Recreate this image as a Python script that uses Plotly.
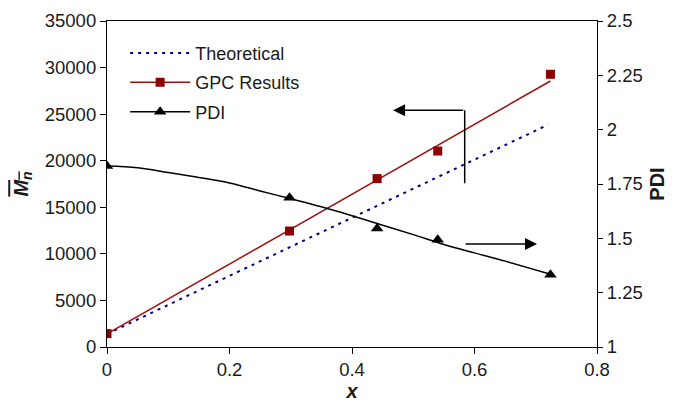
import plotly.graph_objects as go

# ---- data ----
sample_x = [0.0, 0.298, 0.441, 0.540, 0.724]
gpc_mn = [1440, 12450, 18080, 21040, 29280]
pdi_vals = [1.833, 1.687, 1.545, 1.494, 1.333]

theo_x = [0.0, 0.72]
theo_mn = [1400, 23860]

gpc_fit_x = [0.0, 0.724]
gpc_fit_mn = [1400, 28560]

pdi_fit_x = [0.0, 0.05, 0.10, 0.15, 0.20, 0.25, 0.30, 0.35, 0.40, 0.45, 0.50, 0.55, 0.60, 0.65, 0.72]
pdi_fit = [1.833, 1.825, 1.803, 1.780, 1.755, 1.718, 1.682, 1.645, 1.604, 1.560, 1.517, 1.472, 1.433, 1.395, 1.338]

x_ticks = [0, 0.2, 0.4, 0.6, 0.8]
y_ticks = [0, 5000, 10000, 15000, 20000, 25000, 30000, 35000]
y2_ticks = [1, 1.25, 1.5, 1.75, 2, 2.25, 2.5]

# arrow annotations (axis units)
left_arrow = dict(x_tail=0.584, x_tip=0.467, y=25413, y_low=17575)
right_arrow = dict(x_tail=0.583, x_tip=0.702, y=11045)

DARKRED = "#8B0000"
NAVY = "#000080"
FONT = "Liberation Sans, Arial, sans-serif"
TXT = "#1a1a1a"

fig = go.Figure()

# Theoretical
fig.add_trace(go.Scatter(x=theo_x, y=theo_mn, mode="lines", name="Theoretical", legendgroup="a",
                         line=dict(color=NAVY, width=2, dash="3px,5px")))
# GPC fit line + markers
fig.add_trace(go.Scatter(x=gpc_fit_x, y=gpc_fit_mn, mode="lines", showlegend=False,
                         line=dict(color="#a01010", width=1.5)))
fig.add_trace(go.Scatter(x=sample_x, y=gpc_mn, mode="markers", showlegend=False,
                         marker=dict(symbol="square", size=9, color=DARKRED)))
fig.add_trace(go.Scatter(x=[None], y=[None], mode="lines+markers", name="GPC Results", legendgroup="b",
                         line=dict(color="#a01010", width=1.5),
                         marker=dict(symbol="square", size=9, color=DARKRED)))
# PDI
fig.add_trace(go.Scatter(x=pdi_fit_x, y=pdi_fit, mode="lines", showlegend=False, yaxis="y2",
                         line=dict(color="black", width=1.5, shape="spline")))
fig.add_trace(go.Scatter(x=sample_x, y=pdi_vals, mode="markers", showlegend=False, yaxis="y2",
                         marker=dict(symbol="triangle-up", size=11, color="black")))
fig.add_trace(go.Scatter(x=[None], y=[None], mode="lines+markers", name="PDI", yaxis="y2", legendgroup="c",
                         line=dict(color="black", width=1.5),
                         marker=dict(symbol="triangle-up", size=11, color="black")))

# arrows
fig.add_shape(type="line", xref="x", yref="y",
              x0=left_arrow["x_tail"], x1=left_arrow["x_tail"],
              y0=left_arrow["y_low"], y1=left_arrow["y"],
              line=dict(color="black", width=1.5))
fig.add_annotation(x=left_arrow["x_tip"], y=left_arrow["y"], ax=left_arrow["x_tail"], ay=left_arrow["y"],
                   xref="x", yref="y", axref="x", ayref="y", text="", showarrow=True,
                   arrowhead=2, arrowsize=1.6, arrowwidth=1.5, arrowcolor="black")
fig.add_annotation(x=right_arrow["x_tip"], y=right_arrow["y"], ax=right_arrow["x_tail"], ay=right_arrow["y"],
                   xref="x", yref="y", axref="x", ayref="y", text="", showarrow=True,
                   arrowhead=2, arrowsize=1.6, arrowwidth=1.5, arrowcolor="black")

fig.update_layout(
    width=678, height=402,
    margin=dict(l=107, r=81, t=21, b=55),
    paper_bgcolor="white", plot_bgcolor="white",
    font=dict(family=FONT, size=18.5, color=TXT),
    showlegend=True,
    legend=dict(x=0.037, y=0.958, xanchor="left", yanchor="top", itemwidth=60,
                bgcolor="rgba(0,0,0,0)", font=dict(size=18, color=TXT),
                tracegroupgap=3),
    xaxis=dict(range=[0, 0.8], tickvals=x_ticks, ticks="outside", ticklen=6, automargin=False,
               tickcolor="black", linecolor="black", linewidth=1.2, showline=True,
               mirror=True, showgrid=False, zeroline=False,
               title=dict(text="<b><i>x</i></b>", font=dict(size=20), standoff=6)),
    yaxis=dict(range=[0, 35000], tickvals=y_ticks, tickformat="d", ticks="outside", ticklen=6,
               automargin=False,
               tickcolor="black", linecolor="black", linewidth=1.2, showline=True,
               showgrid=False, zeroline=False,
               title=dict(text='<b><i><span style="text-decoration:overline">M<sub>n</sub></span></i></b>',
                          font=dict(size=20), standoff=10)),
    yaxis2=dict(range=[1, 2.5], tickvals=y2_ticks, overlaying="y", side="right", automargin=False,
                ticks="outside", ticklen=5, tickcolor="black", linecolor="black",
                linewidth=1.2, showline=True, showgrid=False, zeroline=False,
                title=dict(text="<b>PDI</b>", font=dict(size=20), standoff=8)),
)

fig.write_html("out.html")
